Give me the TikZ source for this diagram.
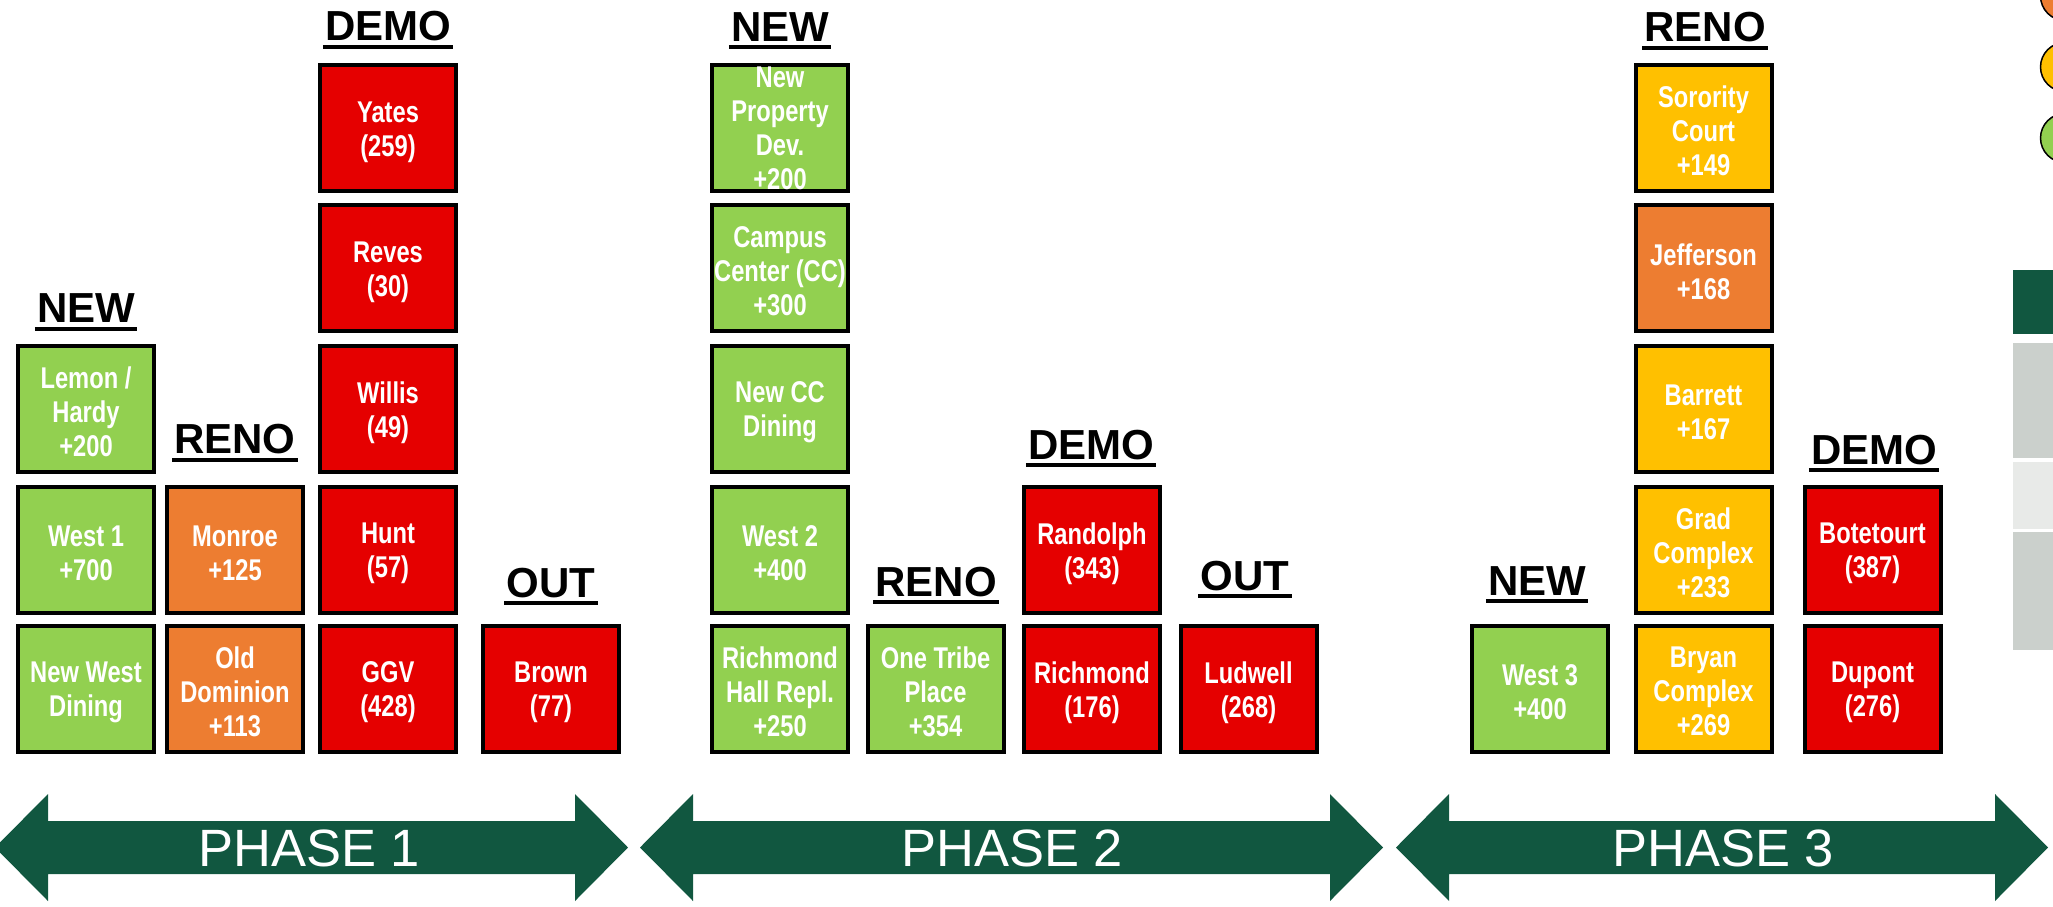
\documentclass[tikz,border=0pt]{standalone}
\usepackage{fontspec}
\setmainfont{Liberation Sans}
\newfontfamily\boxfont{Liberation Sans}[FakeStretch=0.79]
\newfontfamily\hdfont{Liberation Sans}
\newfontfamily\phfont{Liberation Sans}
\definecolor{pgreen}{RGB}{17,87,64}
\definecolor{lgreen}{RGB}{146,208,80}
\definecolor{orng}{RGB}{237,125,49}
\definecolor{yell}{RGB}{255,192,0}
\definecolor{rred}{RGB}{229,0,0}
\definecolor{gryA}{RGB}{203,208,204}
\definecolor{gryB}{RGB}{232,234,232}
\newcommand\Hdr[4]{%
  \node[hdr] (#1) at (#2,#3) {#4};
  \draw[line width=4pt] ([xshift=-2pt,yshift=-6pt]#1.base west) -- ([xshift=2pt,yshift=-6pt]#1.base east);}
% box: style, name, x, y, text, vertical text offset
\newcommand\Bx[6]{%
  \node[#1] (#2) at (#3,#4) {};
  \node[btxt] (#2-t) at ([yshift=#6]#2.center) {#5};}
\newcommand\PhaseArrow[5]{%
  \fill[pgreen] (#2,847.5) -- (#2+53,794) -- (#2+53,821) -- (#3-53,821) -- (#3-53,794) -- (#3,847.5)
     -- (#3-53,901) -- (#3-53,874) -- (#2+53,874) -- (#2+53,901) -- cycle;
  \node[phtxt] (#1) at (#4,848) {#5};}
\begin{document}
\begin{tikzpicture}[x=1pt,y=-1pt,
  bx/.style={draw=black, line width=4pt, minimum width=136pt, minimum height=126pt, inner sep=0pt},
  btxt/.style={inner sep=0pt, align=center, text=white, font=\boxfont\bfseries\fontsize{30}{34}\selectfont},
  gbx/.style={bx, fill=lgreen},
  obx/.style={bx, fill=orng},
  ybx/.style={bx, fill=yell},
  rbx/.style={bx, fill=rred},
  hdr/.style={inner sep=0pt, anchor=base, font=\hdfont\bfseries\fontsize{42}{42}\selectfont},
  phtxt/.style={inner sep=0pt, text=white, font=\phfont\fontsize{52.5}{52.5}\selectfont}]
\useasboundingbox (0,0) rectangle (2053,906);

% legend (right edge)
\draw[line width=1.5pt, fill=orng] (2065,-4) circle (24.5);
\draw[line width=1.5pt, fill=yell] (2065,67) circle (24.5);
\draw[line width=1.5pt, fill=lgreen] (2065,138) circle (24.5);
\fill[pgreen] (2013,270) rectangle (2053,334);
\fill[gryA] (2013,343) rectangle (2053,458);
\fill[gryB] (2013,462) rectangle (2053,529);
\fill[gryA] (2013,532) rectangle (2053,650);

% ---------- Phase 1 ----------
\Hdr{hA1}{86}{322.5}{NEW}
\Hdr{hA2}{235}{453.5}{RENO}
\Hdr{hA3}{388}{40.5}{DEMO}
\Hdr{hA4}{551}{597}{OUT}
\Bx{gbx}{lemon}{86}{409}{Lemon /\\Hardy\\+200}{-3pt}
\Bx{gbx}{west1}{86}{549.5}{West 1\\+700}{-3.5pt}
\Bx{gbx}{nwd}{86}{688.5}{New West\\Dining}{-3.5pt}
\Bx{obx}{monroe}{235}{549.5}{Monroe\\+125}{-3.5pt}
\Bx{obx}{olddom}{235}{688.5}{Old\\Dominion\\+113}{-3pt}
\Bx{rbx}{yates}{388}{128}{Yates\\(259)}{-4pt}
\Bx{rbx}{reves}{388}{268}{Reves\\(30)}{-4pt}
\Bx{rbx}{willis}{388}{409}{Willis\\(49)}{-4pt}
\Bx{rbx}{hunt}{388}{549.5}{Hunt\\(57)}{-4pt}
\Bx{rbx}{ggv}{388}{688.5}{GGV\\(428)}{-4pt}
\Bx{rbx}{brown}{551}{688.5}{Brown\\(77)}{-4pt}

% ---------- Phase 2 ----------
\Hdr{hB1}{780}{41}{NEW}
\Hdr{hB2}{936}{596}{RENO}
\Hdr{hB3}{1091}{459}{DEMO}
\Hdr{hB4}{1245}{590}{OUT}
\Bx{gbx}{newprop}{780}{128}{New\\Property\\Dev.\\+200}{0pt}
\Bx{gbx}{campus}{780}{268}{Campus\\Center (CC)\\+300}{-3pt}
\Bx{gbx}{ccdining}{780}{409}{New CC\\Dining}{-3.5pt}
\Bx{gbx}{west2}{780}{549.5}{West 2\\+400}{-3.5pt}
\Bx{gbx}{richhall}{780}{688.5}{Richmond\\Hall Repl.\\+250}{-3pt}
\Bx{gbx}{onetribe}{935.5}{688.5}{One Tribe\\Place\\+354}{-3pt}
\Bx{rbx}{randolph}{1092}{549.5}{Randolph\\(343)}{-4pt}
\Bx{rbx}{richmond}{1092}{688.5}{Richmond\\(176)}{-4pt}
\Bx{rbx}{ludwell}{1248.5}{688.5}{Ludwell\\(268)}{-4pt}

% ---------- Phase 3 ----------
\Hdr{hC1}{1537}{595}{NEW}
\Hdr{hC2}{1705}{41.5}{RENO}
\Hdr{hC3}{1874}{464}{DEMO}
\Bx{gbx}{west3}{1540}{688.5}{West 3\\+400}{-3.5pt}
\Bx{ybx}{sorority}{1703.5}{128}{Sorority\\Court\\+149}{-3pt}
\Bx{obx}{jefferson}{1703.5}{268}{Jefferson\\+168}{-3.5pt}
\Bx{ybx}{barrett}{1703.5}{409}{Barrett\\+167}{-3.5pt}
\Bx{ybx}{grad}{1703.5}{549.5}{Grad\\Complex\\+233}{-3pt}
\Bx{ybx}{bryan}{1703.5}{688.5}{Bryan\\Complex\\+269}{-3pt}
\Bx{rbx}{botetourt}{1872.5}{549.5}{Botetourt\\(387)}{-4pt}
\Bx{rbx}{dupont}{1872.5}{688.5}{Dupont\\(276)}{-4pt}

% ---------- phase arrows ----------
\PhaseArrow{ph1}{-5}{628}{309}{PHASE 1}
\PhaseArrow{ph2}{640}{1383}{1012}{PHASE 2}
\PhaseArrow{ph3}{1396}{2048}{1723}{PHASE 3}
\end{tikzpicture}
\end{document}
